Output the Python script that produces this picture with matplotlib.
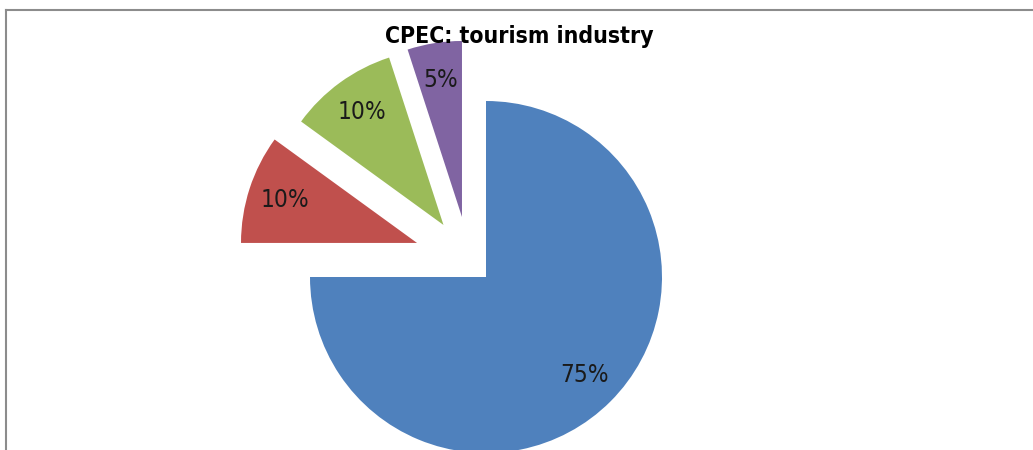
import matplotlib
matplotlib.use("Agg")
import matplotlib.pyplot as plt
from matplotlib.lines import Line2D

title = "CPEC: tourism industry"
categories = ["A", "B", "C", "D"]
values = [75, 10, 10, 5]
colors = ["#4F81BD", "#C0504D", "#9BBB59", "#8064A2"]
explode = [24.4, 54.4, 43.0, 43.3]

FONT = "DejaVu Sans"
W, H = 1033, 450
fig = plt.figure(figsize=(W / 100, H / 100), dpi=100)
ax = fig.add_axes([0, 0, 1, 1])
wedges, texts, autotexts = ax.pie(
    values, colors=colors, explode=explode, startangle=90, counterclock=False,
    center=(468.75, H - 259.75), radius=176, autopct="%d%%", pctdistance=0.79,
    textprops=dict(family=FONT, stretch="condensed", fontsize=17.5, color="#1a1a1a"),
    wedgeprops=dict(linewidth=0), frame=False)
ax.set_xlim(0, W)
ax.set_ylim(0, H)
ax.set_aspect("equal")
ax.axis("off")

fig.text(519 / W, 1 - 43 / H, title, ha="center", va="baseline",
         family=FONT, stretch="condensed", fontweight="bold", fontsize=16.5, color="black")

fig.add_artist(Line2D([5.5 / W, 1], [1 - 9.5 / H, 1 - 9.5 / H], color="#8c8c8c", lw=1.5,
                      transform=fig.transFigure))
fig.add_artist(Line2D([5.5 / W, 5.5 / W], [0, 1 - 9.5 / H], color="#8c8c8c", lw=1.5,
                      transform=fig.transFigure))

fig.savefig("out.png", dpi=100)
